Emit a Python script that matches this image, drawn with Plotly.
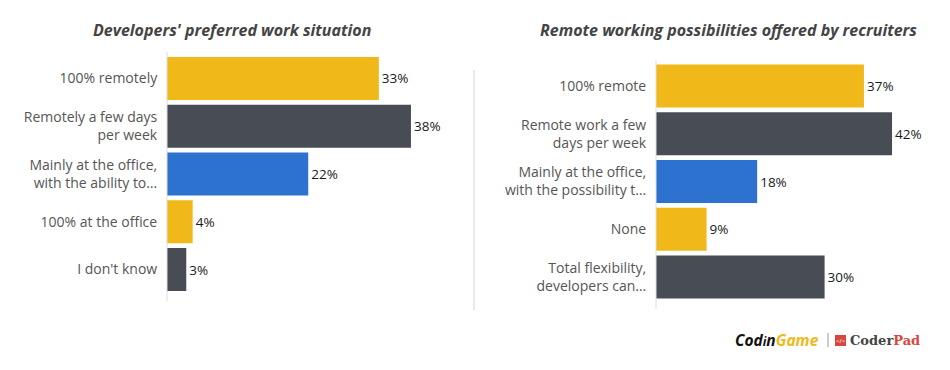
import plotly.graph_objects as go

# The page body has an 8px margin, so the figure starts at (8, 8) in the window.
OFF = 8
W, H = 950 - OFF, 370 - OFF

left_title = "Developers' preferred work situation"
left_cats = ["100% remotely", "Remotely a few days<br>per week",
             "Mainly at the office,<br>with the ability to…", "100% at the office", "I don't know"]
left_vals = [33, 38, 22, 4, 3]

right_title = "Remote working possibilities offered by recruiters"
right_cats = ["100% remote", "Remote work a few<br>days per week",
              "Mainly at the office,<br>with the possibility t…", "None",
              "Total flexibility,<br>developers can…"]
right_vals = [37, 42, 18, 9, 30]

YELLOW = "#F0B818"
DARK = "#474C55"
BLUE = "#2E72CF"
bar_colors = [YELLOW, DARK, BLUE, YELLOW, DARK]

FONT = "Open Sans"

def px_x(x):
    return (x - OFF) / W

def px_y(y):
    return 1 - (y - OFF) / H

fig = go.Figure()

fig.add_trace(go.Bar(
    x=left_vals, y=left_cats, orientation="h",
    marker=dict(color=bar_colors, line=dict(width=0)),
    text=[f"{v}%" for v in left_vals], textposition="outside",
    textfont=dict(family=FONT, size=13.5, color="#1a1a1a"),
    cliponaxis=False, xaxis="x", yaxis="y", hoverinfo="skip",
))
fig.add_trace(go.Bar(
    x=right_vals, y=right_cats, orientation="h",
    marker=dict(color=bar_colors, line=dict(width=0)),
    text=[f"{v}%" for v in right_vals], textposition="outside",
    textfont=dict(family=FONT, size=13.5, color="#1a1a1a"),
    cliponaxis=False, xaxis="x2", yaxis="y2", hoverinfo="skip",
))

xcommon = dict(range=[0, 45], showgrid=False, zeroline=False, showticklabels=False,
               showline=False, fixedrange=True)
ycommon = dict(autorange="reversed", showgrid=False, zeroline=False, showline=False,
               ticks="outside", ticklen=6, tickcolor="rgba(0,0,0,0)",
               tickfont=dict(family=FONT, size=14, color="#555"), fixedrange=True)

fig.update_layout(
    width=W, height=H,
    margin=dict(l=0, r=0, t=0, b=0),
    paper_bgcolor="white", plot_bgcolor="white",
    showlegend=False, bargap=0.1,
    xaxis=dict(domain=[px_x(167), px_x(167 + 45 * 6.42)], anchor="y", **xcommon),
    yaxis=dict(domain=[px_y(293.4), px_y(54.6)], anchor="x", **ycommon),
    xaxis2=dict(domain=[px_x(656), px_x(656 + 45 * 5.62)], anchor="y2", **xcommon),
    yaxis2=dict(domain=[px_y(301), px_y(62)], anchor="x2", **ycommon),
)

shapes = [
    dict(type="line", xref="paper", yref="paper", x0=px_x(167), x1=px_x(167),
         y0=px_y(52), y1=px_y(301), line=dict(color="#DDDDDD", width=1)),
    dict(type="line", xref="paper", yref="paper", x0=px_x(656), x1=px_x(656),
         y0=px_y(60), y1=px_y(309), line=dict(color="#DDDDDD", width=1)),
    dict(type="line", xref="paper", yref="paper", x0=px_x(474), x1=px_x(474),
         y0=px_y(70), y1=px_y(310), line=dict(color="#E2E2E2", width=1.5)),
    dict(type="rect", xref="paper", yref="paper", x0=px_x(835), x1=px_x(846),
         y0=px_y(346), y1=px_y(335), fillcolor="#D8473E", line=dict(width=0)),
    dict(type="line", xref="paper", yref="paper", x0=px_x(828), x1=px_x(828),
         y0=px_y(347), y1=px_y(333), line=dict(color="#999", width=1)),
]

annotations = [
    dict(text=f"<b><i>{left_title}</i></b>", x=px_x(232), y=px_y(30), xref="paper", yref="paper",
         showarrow=False, font=dict(family=FONT, size=16, color="#444"), xanchor="center", yanchor="middle"),
    dict(text=f"<b><i>{right_title}</i></b>", x=px_x(728), y=px_y(30), xref="paper", yref="paper",
         showarrow=False, font=dict(family=FONT, size=16, color="#444"), xanchor="center", yanchor="middle"),
    dict(text="<b><i>Cod<span style='font-size:12px'>i</span>n<span style='color:#F0B818'>Game</span></i></b>",
         x=px_x(821), y=px_y(340), xref="paper", yref="paper", showarrow=False,
         font=dict(family=FONT, size=15.5, color="#111"), xanchor="right", yanchor="middle"),
    dict(text="&lt;/&gt;", x=px_x(840.5), y=px_y(340.5), xref="paper", yref="paper", showarrow=False,
         font=dict(family=FONT, size=6, color="white"), xanchor="center", yanchor="middle"),
    dict(text="<b>Coder<span style='color:#D8473E'>Pad</span></b>", x=px_x(848), y=px_y(340),
         xref="paper", yref="paper", showarrow=False,
         font=dict(family="DejaVu Serif", size=13, color="#444"), xanchor="left", yanchor="middle"),
]

fig.update_layout(shapes=shapes, annotations=annotations)

fig.write_html("out.html")
